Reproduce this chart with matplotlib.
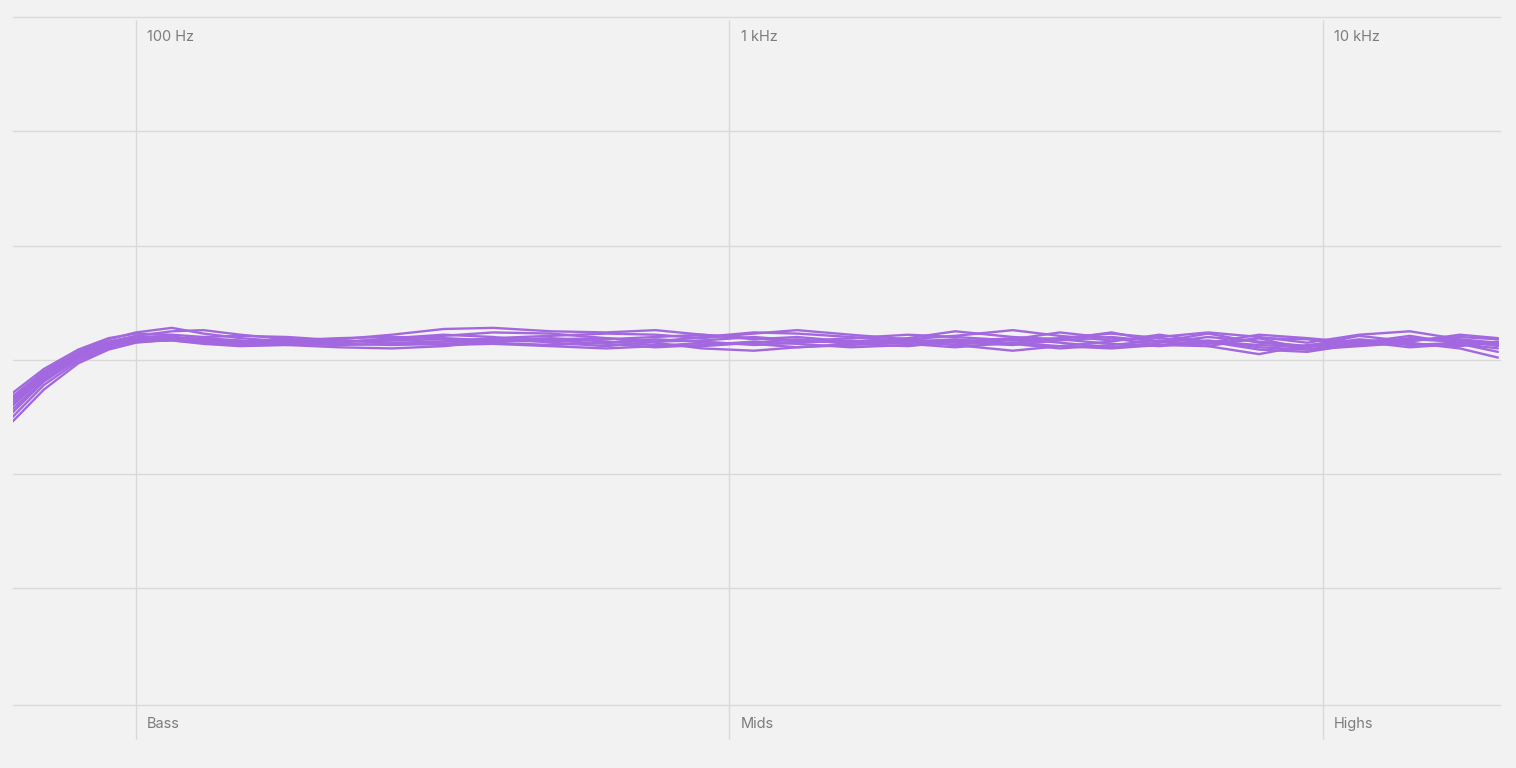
import numpy as np
import matplotlib
matplotlib.use('Agg')
import matplotlib.pyplot as plt

plt.rcParams['font.family'] = ['Inter', 'DejaVu Sans']

# Frequency points (Hz) shared by all measured curves
freqs = [62, 70, 80, 90, 100, 115, 130, 150, 180, 220, 270, 330, 400, 500,
         620, 750, 900, 1100, 1300, 1600, 2000, 2400, 3000, 3600, 4400, 5300,
         6400, 7800, 9400, 11500, 14000, 17000, 19700]

# Response of each measurement (dB)
curve_a = [-3.2, -1.0, 0.7, 1.8, 2.4, 2.8, 2.3, 1.9, 1.6, 1.8, 2.2, 2.7, 2.8, 2.5, 2.4, 2.6, 2.2,
           1.8, 2.0, 1.6, 1.9, 2.5, 2.0, 1.8, 2.4, 1.6, 2.3, 1.5, 1.2, 2.1, 1.6, 2.2, 1.9]
curve_b = [-4.6, -1.9, 0.1, 1.1, 1.6, 1.7, 1.4, 1.2, 1.3, 1.5, 1.9, 2.2, 2.0, 1.5, 1.2, 1.6, 2.0,
           2.4, 2.3, 2.0, 1.6, 1.3, 1.8, 2.4, 1.9, 1.3, 1.2, 1.9, 0.9, 1.5, 2.1, 1.4, 0.7]
curve_c = [-3.6, -1.3, 0.5, 1.5, 2.0, 2.1, 1.5, 1.3, 1.5, 1.4, 1.3, 1.4, 1.7, 1.9, 1.6, 1.3, 1.2,
           1.5, 1.8, 1.4, 1.2, 1.6, 1.9, 1.5, 1.1, 1.5, 2.0, 1.6, 1.2, 1.8, 1.4, 1.2, 1.6]
curve_d = [-5.4, -2.6, -0.3, 0.9, 1.5, 1.8, 1.9, 1.7, 1.3, 1.1, 1.0, 1.2, 1.6, 1.8, 1.9, 1.5, 1.0,
           0.8, 1.1, 1.4, 1.7, 1.3, 0.8, 1.2, 1.6, 2.2, 1.6, 0.9, 0.7, 1.4, 1.9, 1.7, 1.2]
curve_e = [-2.9, -0.8, 0.9, 1.9, 2.3, 2.2, 2.0, 2.1, 2.0, 1.7, 1.5, 1.6, 1.9, 2.1, 2.3, 2.2, 1.9,
           2.3, 2.6, 2.2, 1.8, 2.1, 2.6, 2.1, 1.7, 2.0, 2.4, 2.0, 1.5, 2.2, 2.5, 1.8, 1.5]
curve_f = [-4.0, -1.6, 0.3, 1.3, 1.8, 1.9, 1.6, 1.6, 1.8, 1.7, 1.5, 1.3, 1.4, 1.2, 1.0, 1.2, 1.5,
           1.4, 1.1, 1.3, 1.6, 1.8, 1.4, 1.0, 1.3, 1.7, 1.2, 0.5, 1.3, 1.7, 1.3, 1.5, 1.3]
curve_g = [-3.4, -1.2, 0.6, 1.6, 2.1, 2.5, 2.6, 2.2, 1.8, 1.6, 1.8, 2.1, 2.4, 2.3, 1.9, 1.6, 1.7,
           2.0, 1.7, 1.5, 1.8, 1.5, 1.3, 1.7, 2.0, 1.6, 1.4, 1.9, 1.8, 1.3, 1.7, 2.0, 1.8]
curve_h = [-5.0, -2.2, -0.1, 1.0, 1.6, 1.7, 1.5, 1.4, 1.5, 1.6, 1.7, 1.8, 1.5, 1.3, 1.5, 1.8, 1.6,
           1.3, 1.5, 1.7, 1.4, 1.1, 1.5, 1.8, 1.4, 1.2, 1.6, 1.3, 1.1, 1.6, 1.1, 1.4, 1.0]
curve_i = [-3.8, -1.4, 0.4, 1.4, 1.9, 2.0, 1.8, 1.6, 1.7, 1.9, 2.0, 1.9, 1.7, 1.6, 1.8, 2.0, 2.2,
           1.9, 1.6, 1.9, 2.2, 2.0, 1.7, 1.9, 2.3, 1.9, 1.5, 2.2, 1.9, 1.5, 1.8, 1.6, 1.4]
curve_j = [-4.3, -1.8, 0.2, 1.2, 1.7, 1.8, 1.7, 1.5, 1.4, 1.3, 1.4, 1.6, 1.8, 1.7, 1.4, 1.1, 1.3,
           1.6, 1.4, 1.1, 1.3, 1.7, 1.5, 1.2, 1.0, 1.3, 1.7, 1.1, 0.9, 1.2, 1.5, 1.0, 0.2]
curves = [curve_a, curve_b, curve_c, curve_d, curve_e, curve_f, curve_g, curve_h, curve_i, curve_j]

decade_ticks = [100, 1000, 10000]
decade_labels = ['100 Hz', '1 kHz', '10 kHz']
band_labels = ['Bass', 'Mids', 'Highs']
grid_db = [30, 20, 10, 0, -10, -20]

bg = '#f2f2f2'
grid_col = '#d9d9d9'
text_col = '#7c7c7c'
line_col = '#a368e0'

fig = plt.figure(figsize=(15.16, 7.68), dpi=100, facecolor=bg)
ax = fig.add_axes([13 / 1516, 1 - 705 / 768, (1500 - 13) / 1516, (705 - 17) / 768])
ax.set_facecolor(bg)
ax.set_xscale('log')
ax.set_xlim(62.1, 19860)
ax.set_ylim(-30.2, 30)
for s in ax.spines.values():
    s.set_visible(False)
ax.set_xticks([])
ax.set_yticks([])
ax.minorticks_off()

# horizontal grid + bottom line
for g in grid_db + [-30.2]:
    ax.axhline(g, color=grid_col, lw=1.0, zorder=1, clip_on=False)

# decade lines reach below the bottom line
ax.vlines(decade_ticks, -33.2, 29.7, color=grid_col, lw=1.0, zorder=1, clip_on=False)

for f, lab, band in zip(decade_ticks, decade_labels, band_labels):
    ax.annotate(lab, (f, 28.26), xytext=(8, 0), textcoords='offset points',
                color=text_col, fontsize=10.5, va='center', ha='left', annotation_clip=False)
    ax.annotate(band, (f, -31.85), xytext=(8, 0), textcoords='offset points',
                color=text_col, fontsize=10.5, va='center', ha='left', annotation_clip=False)

for c in curves:
    ax.plot(freqs, c, color=line_col, lw=1.7, zorder=3,
            solid_capstyle='round', solid_joinstyle='round')

fig.savefig('out.png', dpi=100, facecolor=bg)
